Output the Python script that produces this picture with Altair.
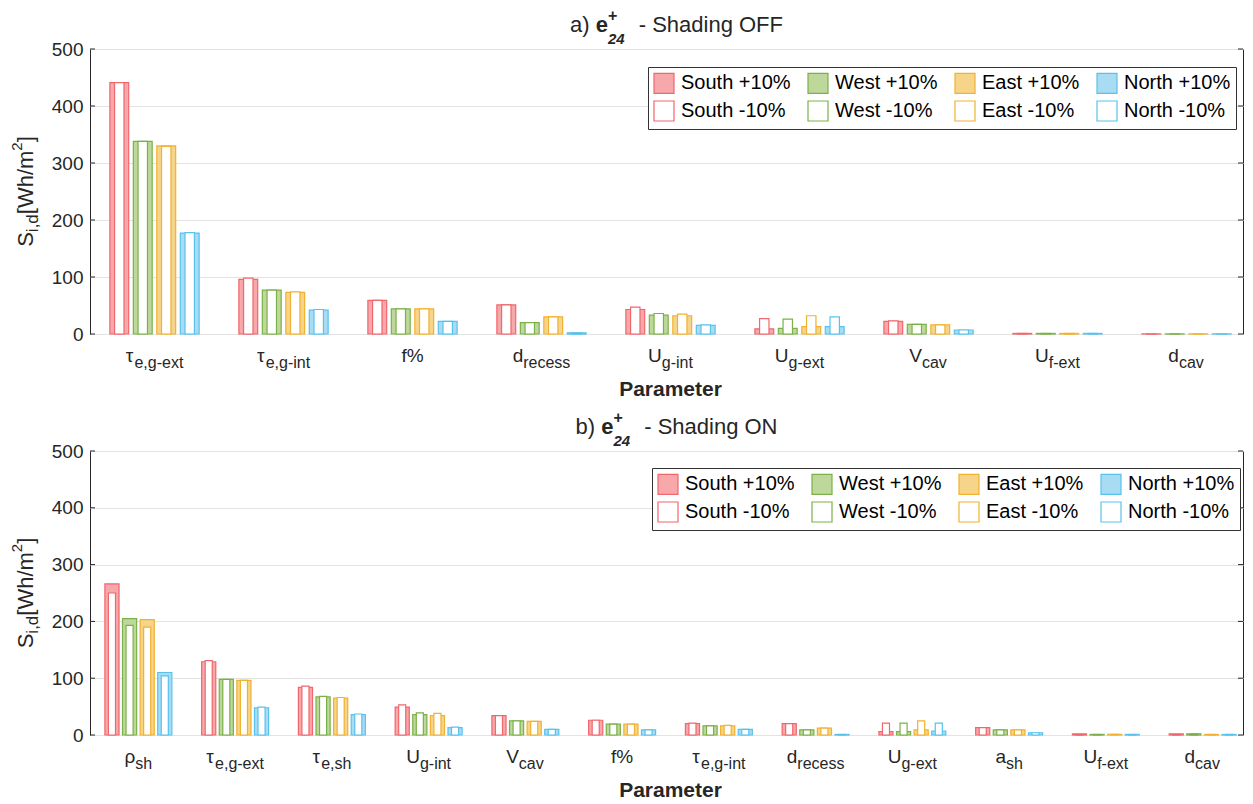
import altair as alt
import pandas as pd

# ---------------- data ----------------
directions = ["South", "West", "East", "North"]
edge_colors = ["#F0676D", "#7AB148", "#F2B12E", "#58C2EE"]
face_colors = ["#F7A8AA", "#BED89B", "#F6D58B", "#A8DCF3"]
y_ticks = [0, 100, 200, 300, 400, 500]

a_main = ["τ", "τ", "f%", "d", "U", "U", "V", "U", "d"]
a_sub = ["e,g-ext", "e,g-int", "", "recess", "g-int", "g-ext", "cav", "f-ext", "cav"]
a_south_plus = [441, 96, 59, 51, 43, 9, 22, 1, 0.2]
a_south_minus = [441, 98, 59, 51, 47, 27, 23, 1, 0.2]
a_west_plus = [338, 77, 44, 20, 33, 10, 17, 1, 0.2]
a_west_minus = [338, 77, 44, 20, 36, 26, 17, 1, 0.2]
a_east_plus = [330, 73, 44, 30, 32, 13, 16, 1, 0.2]
a_east_minus = [329, 74, 44, 30, 35, 32, 16, 1, 0.2]
a_north_plus = [177, 42, 22, 2, 15, 13, 7, 1, 0.2]
a_north_minus = [178, 43, 22, 2, 16, 30, 7, 1, 0.2]

b_main = ["ρ", "τ", "τ", "U", "V", "f%", "τ", "d", "U", "a", "U", "d"]
b_sub = ["sh", "e,g-ext", "e,sh", "g-int", "cav", "", "e,g-int", "recess", "g-ext", "sh", "f-ext", "cav"]
b_south_plus = [266, 129, 84, 49, 34, 26, 20, 20, 6, 13, 2, 2]
b_south_minus = [250, 131, 86, 53, 34, 26, 21, 20, 21, 13, 1, 1]
b_west_plus = [205, 98, 67, 36, 25, 19, 16, 9, 6, 9, 1, 2]
b_west_minus = [193, 98, 68, 39, 25, 19, 16, 9, 21, 9, 1, 2]
b_east_plus = [203, 96, 65, 34, 24, 19, 16, 12, 9, 9, 1, 1]
b_east_minus = [190, 96, 66, 38, 24, 19, 17, 12, 25, 9, 1, 1]
b_north_plus = [110, 48, 36, 13, 10, 9, 10, 1, 7, 4, 1, 1]
b_north_minus = [104, 49, 37, 14, 10, 9, 10, 1, 21, 4, 1, 1]

# ---------------- layout / style ----------------
FONT = "Liberation Sans"
AX = "#262626"
W_REF = 1161      # nominal axes width (category spacing is based on it)
W = 1153          # drawn width (page is slightly narrower than the nominal figure)
STEP, WF, WO = 0.182, 0.146, 0.073
TICK_FS, SUB_FS = 19, 16

REG = {" ": 278, "%": 889, "(": 333, ")": 333, "+": 584, ",": 278, "-": 333, "/": 278,
       "E": 667, "F": 611, "N": 722, "O": 778, "P": 667, "S": 667, "U": 722, "V": 667, "W": 944,
       "[": 278, "]": 278, "a": 556, "b": 556, "c": 500, "d": 556, "e": 556, "f": 278, "g": 556,
       "h": 556, "i": 222, "m": 833, "n": 556, "o": 556, "r": 333, "s": 500, "t": 278, "x": 500,
       "τ": 460, "ρ": 573}
for dgt in "0123456789":
    REG[dgt] = 556


def tw(s, size):
    return sum(REG.get(c, 556) for c in s) * size / 1000.0


# legend is filled column by column: each column holds a direction's +10% and -10%
series_order = []
fill_range = []
stroke_range = []
for d, fc, ec in zip(directions, face_colors, edge_colors):
    series_order += [f"{d} +10%", f"{d} -10%"]
    fill_range += [fc, "#FFFFFF"]
    stroke_range += [ec, ec]


def make_legend(lx, ly):
    return alt.Legend(title=None, orient="none", legendX=lx, legendY=ly,
                      columns=4, symbolType="square", symbolSize=400,
                      symbolStrokeWidth=1.2, labelFontSize=20, labelFont=FONT,
                      labelColor="#000000", labelOffset=6, columnPadding=14,
                      rowPadding=2, padding=5, strokeColor="#333333",
                      fillColor="#FFFFFF", labelLimit=300)


def panel(main, sub, vals, letter, suffix, H, lx, ly):
    n = len(main)
    ppc = W_REF / n
    plus_rows, minus_rows = [], []
    for i in range(n):
        for k, d in enumerate(directions):
            c = i + 1 + (k - 1.5) * STEP
            plus_rows.append({"series": f"{d} +10%", "value": vals[d][0][i],
                              "x0": c - WF / 2, "x1": c + WF / 2})
            minus_rows.append({"series": f"{d} -10%", "value": vals[d][1][i],
                               "x0": c - WO / 2, "x1": c + WO / 2})
    lab_rows = []
    for i in range(n):
        wm = tw(main[i], TICK_FS)
        ws = tw(sub[i], SUB_FS)
        tot = wm + ws
        lab_rows.append({"main": main[i], "sub": sub[i],
                         "xm": i + 1 + (-tot / 2) / ppc,
                         "xs": i + 1 + (-tot / 2 + wm) / ppc})

    xscale = alt.Scale(domain=[0.5, 0.5 + n * W / W_REF], nice=False, zero=False)
    yscale = alt.Scale(domain=[0, 500], nice=False)
    leg = make_legend(lx, ly)
    fill_enc = alt.Fill("series:N", scale=alt.Scale(domain=series_order, range=fill_range),
                        legend=leg)
    stroke_enc = alt.Stroke("series:N", scale=alt.Scale(domain=series_order, range=stroke_range),
                            legend=leg)
    yaxis = alt.Axis(values=y_ticks, title=None, grid=True, gridColor="#E3E3E3", domain=False,
                     ticks=False, labelFontSize=TICK_FS, labelFont=FONT, labelColor=AX,
                     labelPadding=7)

    dplus = pd.DataFrame(plus_rows)
    dminus = pd.DataFrame(minus_rows)
    bars_p = alt.Chart(dplus).mark_bar(strokeWidth=1.2).encode(
        x=alt.X("x0:Q", scale=xscale, axis=None), x2="x1:Q",
        y=alt.Y("value:Q", scale=yscale, axis=yaxis), y2=alt.datum(0),
        fill=fill_enc, stroke=stroke_enc)
    bars_m = alt.Chart(dminus).mark_bar(strokeWidth=1.2).encode(
        x=alt.X("x0:Q", scale=xscale, axis=None), x2="x1:Q",
        y=alt.Y("value:Q", scale=yscale, axis=yaxis), y2=alt.datum(0),
        fill=fill_enc, stroke=stroke_enc)

    dt = pd.DataFrame({"v": y_ticks})
    tick_l = alt.Chart(dt).mark_rule(color=AX, strokeWidth=1).encode(
        y=alt.Y("v:Q", scale=yscale, axis=yaxis), x=alt.value(0), x2=alt.value(5))
    tick_r = alt.Chart(dt).mark_rule(color=AX, strokeWidth=1).encode(
        y=alt.Y("v:Q", scale=yscale, axis=yaxis), x=alt.value(W - 5), x2=alt.value(W))

    dl = pd.DataFrame(lab_rows)
    lab_m = alt.Chart(dl).mark_text(align="left", baseline="alphabetic", fontSize=TICK_FS,
                                    font=FONT, color=AX).encode(
        x=alt.X("xm:Q", scale=xscale, axis=None), y=alt.value(H + 28), text="main:N")
    lab_s = alt.Chart(dl).mark_text(align="left", baseline="alphabetic", fontSize=SUB_FS,
                                    font=FONT, color=AX).encode(
        x=alt.X("xs:Q", scale=xscale, axis=None), y=alt.value(H + 34), text="sub:N")

    one = pd.DataFrame({"k": [0]})

    def txt(t, x, y, size, weight="normal", style="normal", angle=0):
        kw = dict(align="left", baseline="alphabetic", fontSize=size, font=FONT, color=AX,
                  fontWeight=weight, fontStyle=style)
        if angle:
            kw["angle"] = angle
        return alt.Chart(one).mark_text(**kw).encode(
            x=alt.value(x), y=alt.value(y), text=alt.value(t))

    # x title
    xt = alt.Chart(one).mark_text(align="center", baseline="alphabetic", fontSize=21, font=FONT,
                                  color=AX, fontWeight="bold").encode(
        x=alt.value(W_REF / 2), y=alt.value(H + 62), text=alt.value("Parameter"))

    # title:  letter) e^+_24  - Shading ...
    TF = 22
    w1 = tw(letter + ")", TF)
    gap1 = tw(" ", TF)
    we = 556 * TF / 1000
    wst = max(584 * 16 / 1000, 2 * 556 * 15 / 1000)
    gap2 = 2.3 * tw(" ", TF)
    w3 = tw(suffix, TF)
    tot = w1 + gap1 + we + wst + gap2 + w3
    x0 = W_REF / 2 + 6 - tot / 2
    tb = -17
    title_layers = [
        txt(letter + ")", x0, tb, TF),
        txt("e", x0 + w1 + gap1, tb, TF, weight="bold"),
        txt("+", x0 + w1 + gap1 + we, tb - 11, 16, weight="bold"),
        txt("24", x0 + w1 + gap1 + we, tb + 12, 15, weight="bold", style="italic"),
        txt(suffix, x0 + w1 + gap1 + we + wst + gap2, tb, TF),
    ]

    # y title: S_{i,d}[Wh/m^2]
    YF, YS, YP = 22, 17, 15
    pieces = [("S", YF, 0), ("i,d", YS, 5), ("[Wh/m", YF, 0), ("2", YP, -11), ("]", YF, 0)]
    total = sum(tw(p, s) for p, s, _ in pieces)
    ycur = H / 2 + total / 2
    xb = -57.5
    ylayers = []
    for p, s, off in pieces:
        ylayers.append(txt(p, xb + off, ycur, s, angle=270))
        ycur -= tw(p, s)

    return alt.layer(bars_p, bars_m, tick_l, tick_r, lab_m, lab_s, xt, *title_layers,
                     *ylayers).properties(width=W, height=H)


a_vals = {"South": (a_south_plus, a_south_minus), "West": (a_west_plus, a_west_minus),
          "East": (a_east_plus, a_east_minus), "North": (a_north_plus, a_north_minus)}
b_vals = {"South": (b_south_plus, b_south_minus), "West": (b_west_plus, b_west_minus),
          "East": (b_east_plus, b_east_minus), "North": (b_north_plus, b_north_minus)}

pa = panel(a_main, a_sub, a_vals, "a", "- Shading OFF", 285, 558, 18)
pb = panel(b_main, b_sub, b_vals, "b", "- Shading ON", 284, 562, 17)

chart = alt.vconcat(pa, pb, spacing=8).resolve_scale(
    x="independent", y="independent", fill="independent", stroke="independent"
).resolve_legend(fill="independent", stroke="independent").configure(
    padding={"left": 0, "top": -1, "right": 0, "bottom": 0}, font=FONT
).configure_view(stroke=AX, strokeWidth=1)

chart.save("out.html", embed_options={"renderer": "svg", "actions": False})
